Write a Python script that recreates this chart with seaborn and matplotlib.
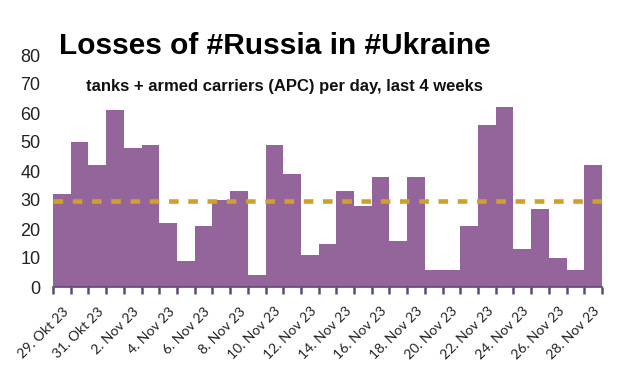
import numpy as np
import pandas as pd
import matplotlib
matplotlib.use("Agg")
import matplotlib.pyplot as plt
import seaborn as sns

# daily losses (tanks + APC), 29 Oct 2023 .. 28 Nov 2023
dates = pd.date_range("2023-10-29", "2023-11-28", freq="D")
losses = [32, 50, 42, 61, 48, 49, 22, 9, 21, 30, 33, 4, 49, 39, 11, 15,
          33, 28, 38, 16, 38, 6, 6, 21, 56, 62, 13, 27, 10, 6, 42]

month_names = {10: "Okt", 11: "Nov"}
day_labels = [f"{d.day}. {month_names[d.month]} {d.strftime('%y')}" for d in dates]

df = pd.DataFrame({"day": day_labels, "losses": losses})

BAR_COLOR = "#94659b"
MEAN_COLOR = "#cfa02a"
TICK_COLOR = "#5e4a6e"

sns.set_theme(style="white")
plt.rcParams["font.family"] = ["Liberation Sans", "DejaVu Sans"]

fig = plt.figure(figsize=(6.19, 3.72), dpi=100)
ax = fig.add_axes([53 / 619, 1 - 287 / 372, 549 / 619, 232 / 372])

sns.barplot(data=df, x="day", y="losses", color=BAR_COLOR, width=1.0,
            saturation=1, linewidth=0, ax=ax)

# average line
ax.axhline(np.mean(losses), color=MEAN_COLOR, linewidth=3.3,
           dashes=(2.1, 2.1), zorder=3)

n = len(losses)
ax.set_xlim(-0.5, n - 0.5)
ax.set_ylim(0, 80)
ax.set_yticks(range(0, 81, 10))
ax.tick_params(axis="y", length=0, labelsize=13, pad=9, labelcolor="#222222")

# labels every 2nd day at bar centres, tick marks at bar edges
ax.set_xticks(range(0, n, 2))
ax.set_xticklabels(day_labels[::2], rotation=45, ha="right",
                   rotation_mode="anchor", fontsize=10,
                   family=["Lato", "DejaVu Sans"], color="#222222")
ax.tick_params(axis="x", which="major", length=0, pad=13)
ax.set_xticks(np.arange(-0.5, n, 1), minor=True)
ax.tick_params(axis="x", which="minor", length=5, width=1.8,
               color=TICK_COLOR, direction="out", bottom=True)

ax.set_xlabel("")
ax.set_ylabel("")
for side in ["top", "right", "left"]:
    ax.spines[side].set_visible(False)
ax.spines["bottom"].set_color(TICK_COLOR)
ax.spines["bottom"].set_linewidth(1.2)

fig.text(275 / 619, 1 - 46 / 372, "Losses of #Russia in #Ukraine",
         ha="center", va="center", fontsize=21.5, fontweight="bold",
         color="black")
fig.text(284 / 619, 1 - 86 / 372,
         "tanks + armed carriers (APC) per day, last 4 weeks",
         ha="center", va="center", fontsize=12, fontweight="bold",
         color="#111111")

fig.savefig("out.png", dpi=100)
